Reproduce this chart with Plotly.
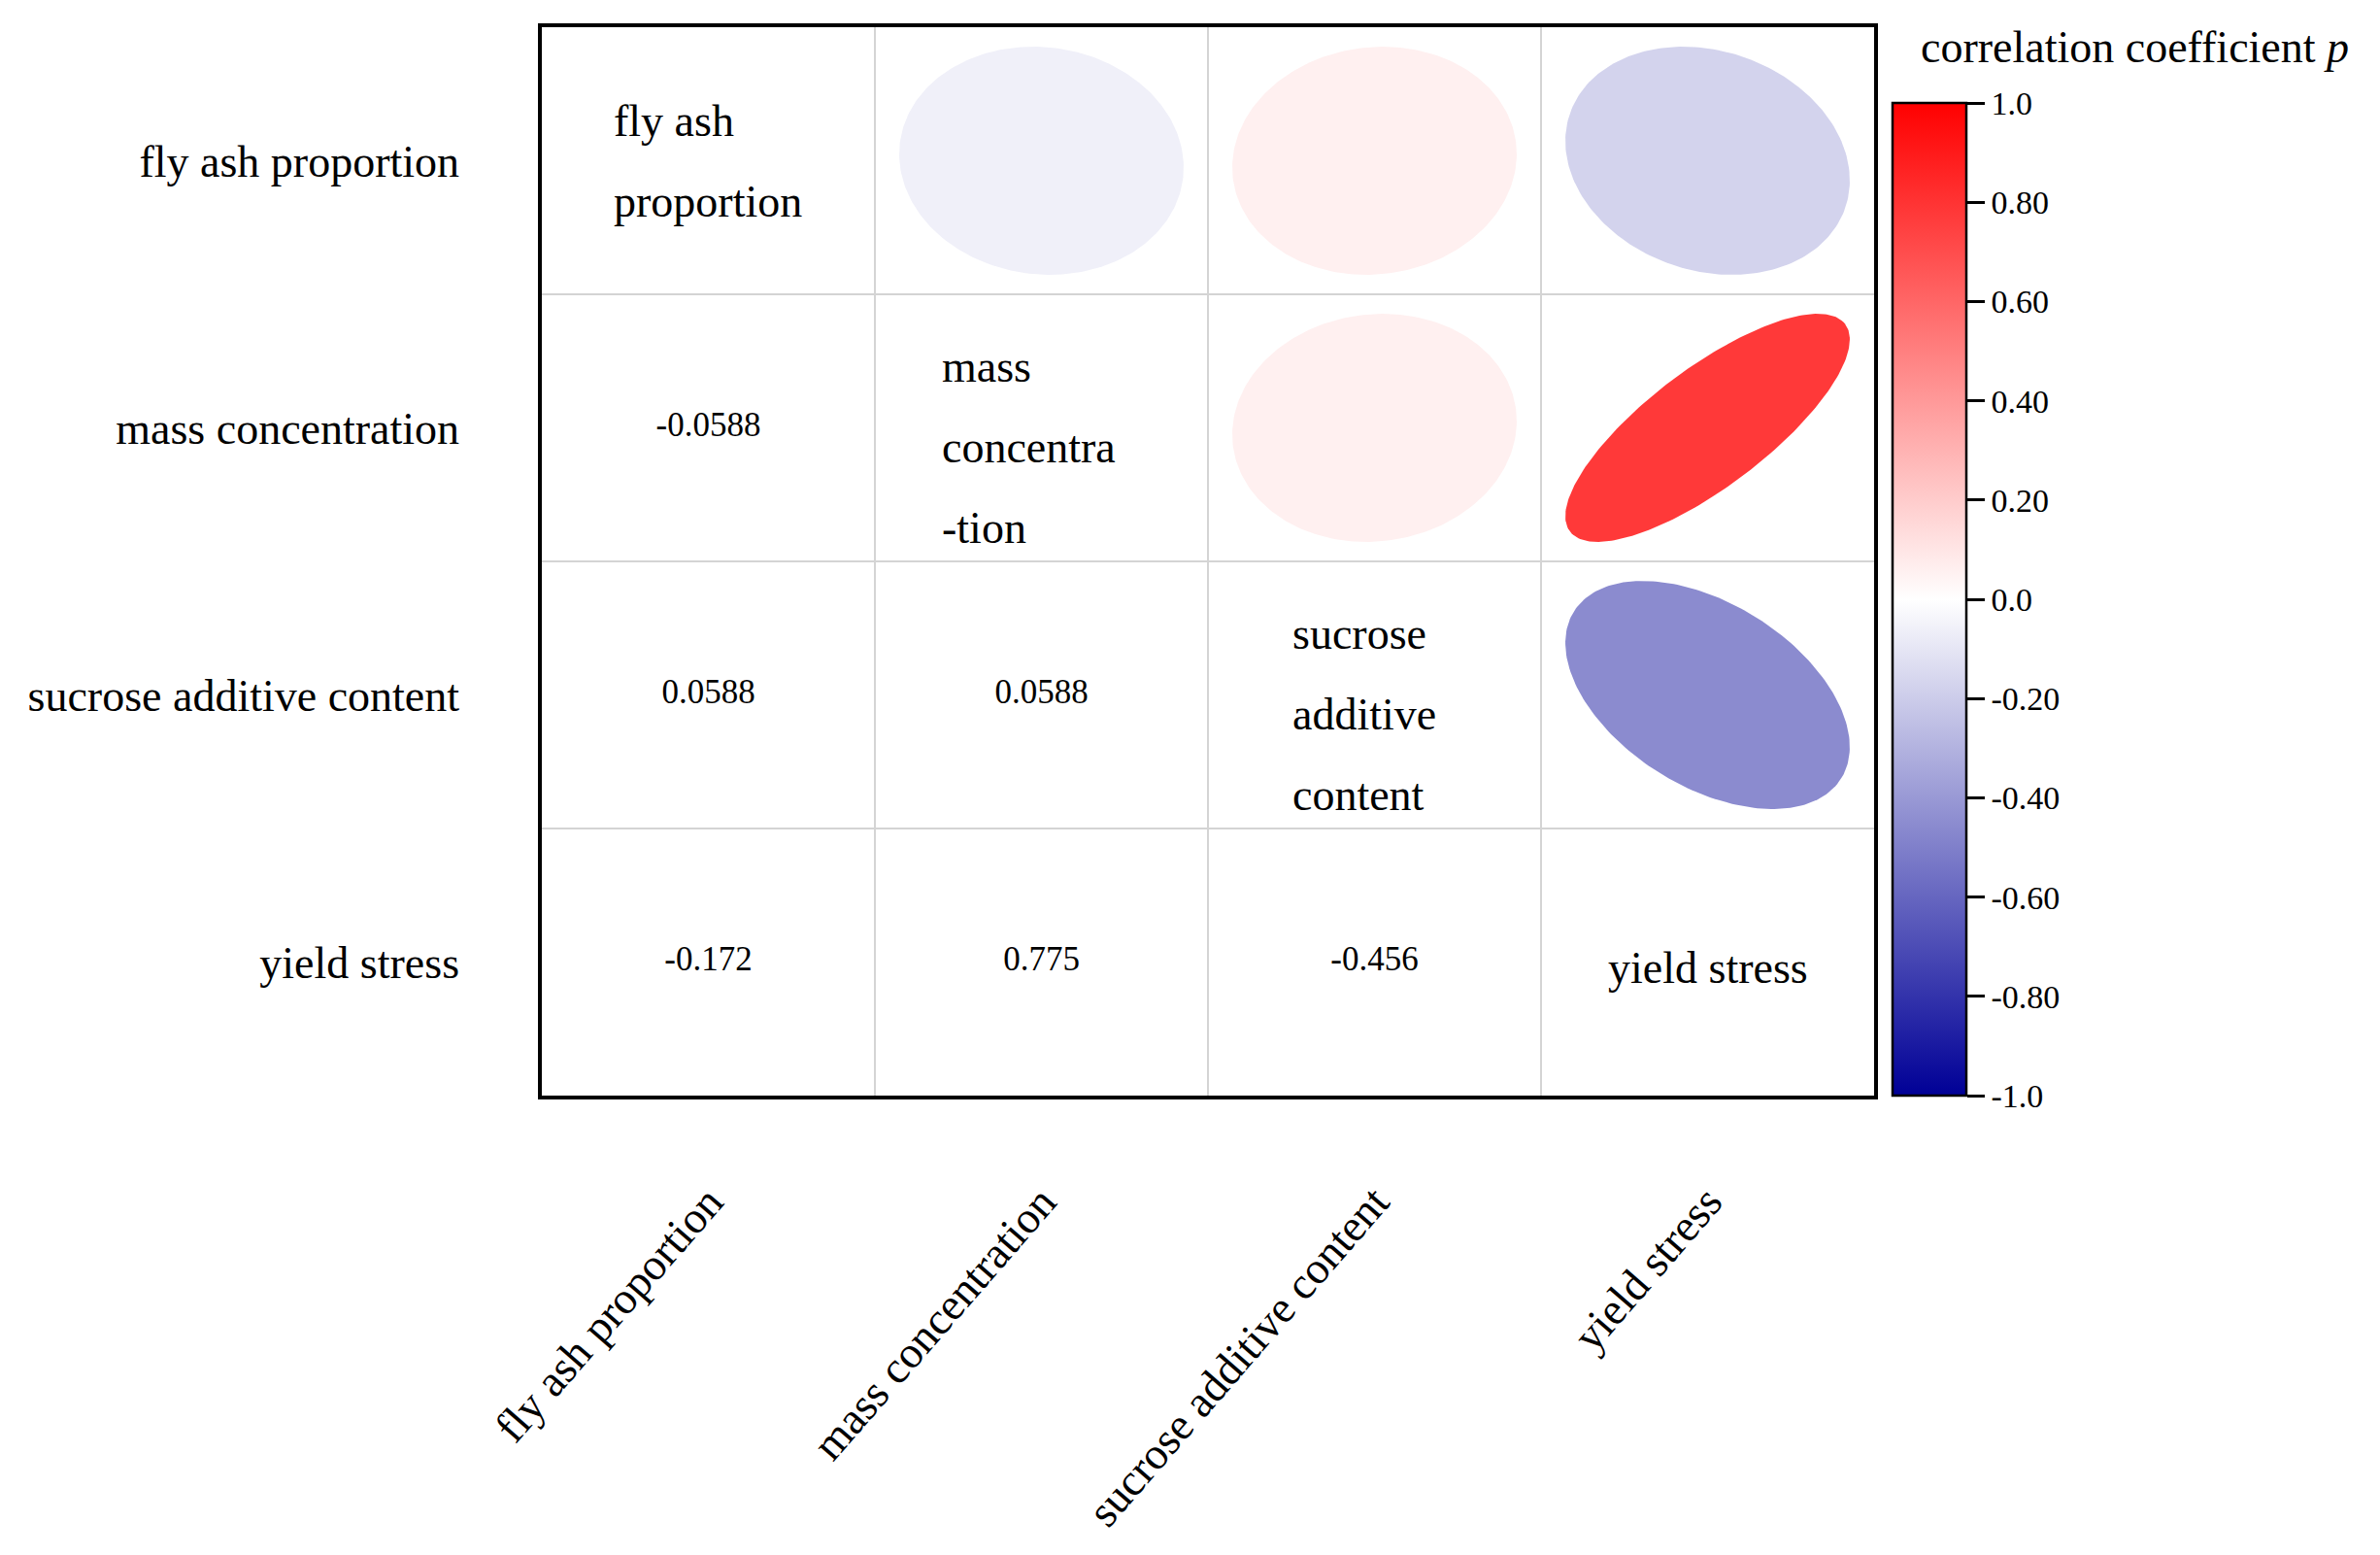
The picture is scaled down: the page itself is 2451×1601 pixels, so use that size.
import numpy as np
import plotly.graph_objects as go
from plotly.colors import sample_colorscale

# ---------------- data ----------------
variables = ["fly ash proportion", "mass concentration", "sucrose additive content", "yield stress"]
diag_lines = [["fly ash", "proportion"], ["mass", "concentra", "-tion"],
              ["sucrose", "additive", "content"], ["yield stress"]]
corr = [
    [1.0, -0.0588, 0.0588, -0.172],
    [-0.0588, 1.0, 0.0588, 0.775],
    [0.0588, 0.0588, 1.0, -0.456],
    [-0.172, 0.775, -0.456, 1.0],
]
corr_labels = [
    ["", "", "", ""],
    ["-0.0588", "", "", ""],
    ["0.0588", "0.0588", "", ""],
    ["-0.172", "0.775", "-0.456", ""],
]
cbar_tickvals = [-1.0, -0.8, -0.6, -0.4, -0.2, 0.0, 0.2, 0.4, 0.6, 0.8, 1.0]
cbar_ticktext = ["-1.0", "-0.80", "-0.60", "-0.40", "-0.20", "0.0", "0.20", "0.40", "0.60", "0.80", "1.0"]
cbar_title = "correlation coefficient <i>p</i>"

# ---------------- style ----------------
FONT = "Liberation Serif"
colorscale = [[0.0, "rgb(0,0,150)"], [0.5, "rgb(255,255,255)"], [1.0, "rgb(255,0,0)"]]
ELL_HALF = 0.427           # ellipse half-extent in cell units
diag_inset = [0.21, 0.196, 0.247, None]   # left inset of multi-line diagonal text
diag_yshift = [0, -20, -20, -6]
LINE_GAP = 83              # px between diagonal text lines

n = len(variables)
fig = go.Figure()

# ellipses in upper triangle
t = np.linspace(0, 2 * np.pi, 240)
for i in range(n):
    for j in range(i + 1, n):
        r = corr[i][j]
        d = np.arccos(r)
        ex = j + ELL_HALF * np.cos(t + d / 2)
        ey = i - ELL_HALF * np.cos(t - d / 2)
        col = sample_colorscale(colorscale, [(r + 1) / 2])[0]
        fig.add_trace(go.Scatter(x=ex, y=ey, mode="lines", fill="toself",
                                 fillcolor=col, line=dict(width=0, color=col),
                                 hoverinfo="skip", showlegend=False))

# numbers in lower triangle
nx, ny, nt = [], [], []
for i in range(n):
    for j in range(i):
        nx.append(j)
        ny.append(i)
        nt.append(corr_labels[i][j])
fig.add_trace(go.Scatter(x=nx, y=ny, text=nt, mode="text",
                         textfont=dict(family=FONT, size=35, color="black"),
                         textposition="middle center", hoverinfo="skip", showlegend=False))

# invisible carrier of the colour bar
cx, cy, cv = [], [], []
for i in range(n):
    for j in range(n):
        cx.append(j); cy.append(i); cv.append(corr[i][j])
fig.add_trace(go.Scatter(
    x=cx, y=cy, mode="markers", hoverinfo="skip", showlegend=False,
    marker=dict(color=cv, colorscale=colorscale, cmin=-1, cmax=1, size=1, opacity=0,
                showscale=True,
                colorbar=dict(x=1.0138, xanchor="left", y=0, yanchor="bottom",
                              len=0.929, lenmode="fraction", thickness=76,
                              xpad=0, ypad=0, outlinecolor="black", outlinewidth=2.5,
                              tickvals=cbar_tickvals, ticktext=cbar_ticktext,
                              ticks="outside", ticklen=18, tickwidth=3, tickcolor="black",
                              tickfont=dict(family=FONT, size=34, color="black")))))

# diagonal names
annotations = []
for k, lines in enumerate(diag_lines):
    m = len(lines)
    if m == 1:
        annotations.append(dict(x=k, y=k, xref="x", yref="y", text=lines[0], showarrow=False,
                                xanchor="center", yanchor="middle", yshift=diag_yshift[k],
                                font=dict(family=FONT, size=46, color="black")))
    else:
        for q, line in enumerate(lines):
            annotations.append(dict(x=k - 0.5 + diag_inset[k], y=k, xref="x", yref="y",
                                    text=line, showarrow=False, xanchor="left", yanchor="middle",
                                    yshift=-(q - (m - 1) / 2) * LINE_GAP + diag_yshift[k],
                                    font=dict(family=FONT, size=46, color="black")))

annotations.append(dict(x=1.0335, y=0.981, xref="paper", yref="paper", text=cbar_title,
                        showarrow=False, xanchor="left", yanchor="middle",
                        font=dict(family=FONT, size=46, color="black")))

grid_vals = [k + 0.5 for k in range(n - 1)]
fig.update_layout(
    width=2435, height=1585,
    margin=dict(l=550, r=513, t=20, b=457),
    paper_bgcolor="white", plot_bgcolor="white",
    annotations=annotations,
    font=dict(family=FONT, color="black"),
    xaxis=dict(range=[-0.5, n - 0.5], tickvals=list(range(n)), ticktext=variables,
               tickangle=-49, ticks="", showgrid=False, zeroline=False,
               showline=True, linecolor="black", linewidth=3.5, mirror=True,
               ticklabelstandoff=60,
               tickfont=dict(family=FONT, size=46, color="black"),
               minor=dict(tickvals=grid_vals, showgrid=True, gridcolor="#d4d4d4", gridwidth=1.5, ticks="")),
    yaxis=dict(range=[n - 0.5, -0.5], tickvals=list(range(n)), ticktext=variables,
               ticks="", showgrid=False, zeroline=False,
               showline=True, linecolor="black", linewidth=3.5, mirror=True,
               ticklabelstandoff=72,
               tickfont=dict(family=FONT, size=46, color="black"),
               minor=dict(tickvals=grid_vals, showgrid=True, gridcolor="#d4d4d4", gridwidth=1.5, ticks="")),
)

fig.write_html("out.html")
